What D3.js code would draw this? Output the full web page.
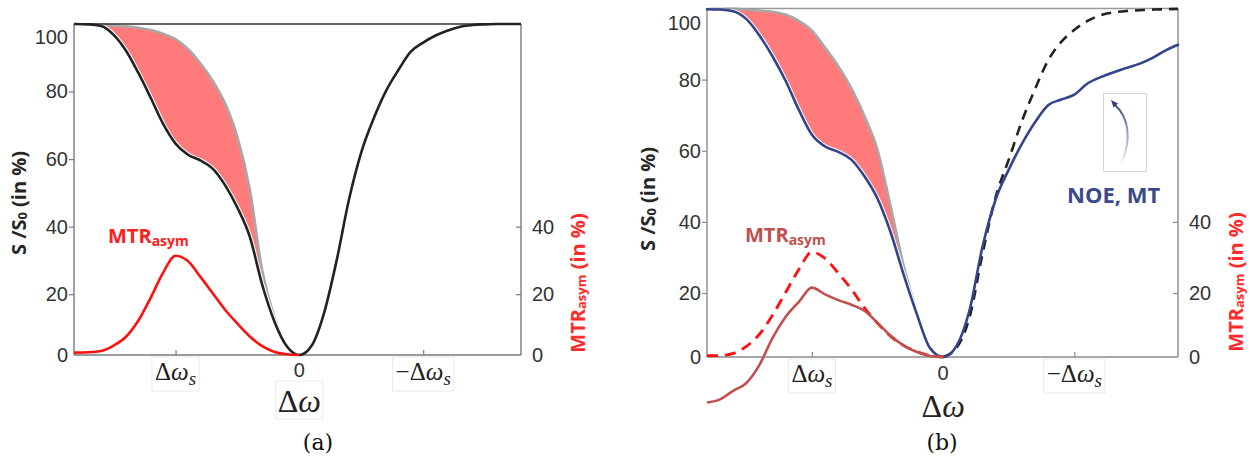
<!DOCTYPE html>
<html><head><meta charset="utf-8">
<script src="https://cdn.jsdelivr.net/npm/d3@7"></script>
<style>body{margin:0;background:#fff}svg{display:block}</style>
</head><body>
<script>
// ---------------- data ----------------
// x values are Δω in units of Δω_s (left = +Δω_s, right = −Δω_s)
const xTickValues = [1, 0, -1];
const yTickValues = [2, 20, 40, 60, 80, 96];
const yTickLabels = ["0", "20", "40", "60", "80", "100"];
const y2TickValues = [2, 20, 40];
const y2TickLabels = ["0", "20", "40"];

// panel (a)
const dwLeftA  = [1.82,1.7,1.6,1.5,1.4,1.3,1.2,1.1,1.0,0.9,0.8,0.7,0.6,0.5,0.4,0.3,0.2,0.1,0];
const zLeftA   = [100,99.9,99.4,96.8,92.1,85.5,78.1,70.4,64.6,61.3,59.6,57.2,52.3,45.6,37.0,22.8,11.8,4.5,2.0];
const refLeftA = [100,100,99.9,99.6,99.3,98.9,98.2,97.1,95.5,92.6,88.4,83.2,76.5,66.5,51.0,27.0,13.0,4.7,2.0];
const mtrA     = [2.7,2.8,3.2,4.8,7.4,12.2,19.0,26.4,31.4,29.8,25.2,20.3,15.4,11.3,7.5,4.6,2.9,2.2,2.0];
const dwRightA = [0,-0.1,-0.2,-0.3,-0.4,-0.5,-0.6,-0.7,-0.8,-0.9,-1.0,-1.1,-1.2,-1.3,-1.4,-1.5,-1.6,-1.79];
const zRightA  = [2.0,4.8,14.5,29.8,47.9,62.0,72.0,80.2,86.4,91.8,94.5,96.6,98.1,99.2,99.7,99.9,100,100];

// panel (b)
const dwLeftB   = [1.8,1.7,1.6,1.5,1.4,1.3,1.2,1.1,1.0,0.9,0.8,0.7,0.6,0.5,0.4,0.3,0.2,0.1,0];
const zLeftB    = [99.8,99.7,99.2,97.0,92.4,86.5,79.6,71.5,64.5,61.2,59.7,57.5,52.8,46.5,37.0,25.0,14.0,4.5,2.0];
const refLeftB  = [100,100,99.9,99.7,99.4,99.1,98.3,96.5,93.8,89.0,83.8,77.6,69.8,60.2,44.3,27.5,14.6,4.6,2.0];
const mtrSimB   = [2.4,2.4,3.0,5.0,8.4,13.8,20.2,26.6,31.5,29.7,25.6,21.1,15.8,11.5,7.8,5.2,3.5,2.4,2.0];
const mtrExpB   = [-10.8,-9.9,-7.5,-5.3,-0.2,7.4,13.3,17.5,21.5,19.6,18.0,16.7,15.0,11.6,8.0,5.2,3.4,2.3,2.0];
const dwRightB  = [0,-0.1,-0.2,-0.3,-0.4,-0.5,-0.6,-0.7,-0.8,-0.9,-1.0,-1.1,-1.2,-1.3,-1.4,-1.5,-1.6,-1.7,-1.79];
const zSimRightB = [2.0,4.5,13.0,31.0,47.0,57.5,68.3,77.3,85.4,90.6,94.0,96.5,98.1,98.9,99.3,99.5,99.7,99.8,99.9];
const zExpRightB = [2.0,5.0,15.0,33.0,46.3,54.7,61.9,68.0,72.8,74.4,75.8,78.9,80.7,82.1,83.3,84.5,86.2,88.3,89.8];

// ---------------- drawing ----------------
const W = 1250, H = 466;
const svg = d3.select("body").append("svg").attr("width", W).attr("height", H);
const SANS = "'Liberation Sans', Arial, sans-serif";
const BOLD = "'Open Sans', 'Liberation Sans', sans-serif";
const SERIF = "'Liberation Serif', 'DejaVu Serif', serif";

const zip = (xs, ...cols) => xs.map((v, i) => [v, ...cols.map(c => c[i])]);

function boxBehind(g, t, padX, padT, padB, stroke) {
  const b = t.node().getBBox();
  g.insert("rect", () => t.node()).attr("x", b.x - padX).attr("y", b.y - padT)
    .attr("width", b.width + 2 * padX).attr("height", b.height + padT + padB)
    .attr("fill", "#fff").attr("stroke", stroke).attr("stroke-width", 1);
}

function panel(p) {
  const g = svg.append("g");
  const x = d3.scaleLinear().domain(p.xDomain).range([p.left, p.right]);
  const y = d3.scaleLinear().domain([2, 100]).range([p.bottom, p.top]);
  const line = d3.line().x(d => x(d[0])).y(d => y(d[1])).curve(d3.curveMonotoneX);
  const area = d3.area().x(d => x(d[0])).y0(d => y(d[1])).y1(d => y(d[2])).curve(d3.curveMonotoneX);

  // red asymmetry area
  g.append("path").datum(zip(p.dwLeft, p.zLeft, p.refLeft))
    .attr("d", area).attr("fill", "#ff7b7b");
  // reference (mirrored) curve
  g.append("path").datum(zip(p.dwLeft, p.refLeft))
    .attr("d", line).attr("fill", "none").attr("stroke", "#a8a8a8").attr("stroke-width", 2.6);

  const zFull = zip(p.dwLeft, p.zLeft).concat(zip(p.dwRight, p.zRight).slice(1));
  // white halo under main curve
  g.append("path").datum(zFull).attr("d", line).attr("fill", "none")
    .attr("stroke", "#fff").attr("stroke-width", 4.6);

  // frame
  const f = g.append("g").attr("fill", "none").attr("stroke-width", 1.4);
  f.append("line").attr("x1", p.left).attr("x2", p.right).attr("y1", p.top).attr("y2", p.top).attr("stroke", p.topColor);
  f.append("line").attr("x1", p.left).attr("x2", p.left).attr("y1", p.top).attr("y2", p.bottom).attr("stroke", p.axisColor);
  f.append("line").attr("x1", p.right).attr("x2", p.right).attr("y1", p.top).attr("y2", p.bottom).attr("stroke", p.axisColor);
  f.append("line").attr("x1", p.left).attr("x2", p.right).attr("y1", p.bottom).attr("y2", p.bottom).attr("stroke", p.axisColor);

  // left axis
  const gl = g.append("g").attr("transform", `translate(${p.left},0)`)
    .call(d3.axisLeft(y).tickValues(yTickValues).tickSize(5).tickPadding(1)
      .tickFormat(d => yTickLabels[yTickValues.indexOf(d)]));
  gl.select(".domain").remove();
  gl.attr("font-family", SANS).attr("font-size", 20);
  gl.selectAll(".tick line").attr("stroke", p.axisColor).attr("stroke-width", 1.2)
    .attr("display", d => (d === 2 || d === 96) ? "none" : null);
  gl.selectAll(".tick text").attr("fill", "#333");

  // right axis
  const gr = g.append("g").attr("transform", `translate(${p.right},0)`)
    .call(d3.axisRight(y).tickValues(y2TickValues).tickSize(-5).tickPadding(11)
      .tickFormat(d => y2TickLabels[y2TickValues.indexOf(d)]));
  gr.select(".domain").remove();
  gr.attr("font-family", SANS).attr("font-size", 20);
  gr.selectAll(".tick line").attr("stroke", p.axisColor).attr("stroke-width", 1.2)
    .attr("display", d => d === 2 ? "none" : null);
  gr.selectAll(".tick text").attr("fill", "#333");

  // x axis ticks (inward)
  const gx = g.append("g").attr("transform", `translate(0,${p.bottom})`)
    .call(d3.axisBottom(x).tickValues(xTickValues.filter(v => v !== 0)).tickSize(-5).tickFormat(""));
  gx.select(".domain").remove();
  gx.selectAll(".tick line").attr("stroke", p.axisColor).attr("stroke-width", 1.2);

  // x tick labels
  xTickValues.forEach(v => {
    if (v === 0) {
      g.append("text").attr("x", x(v)).attr("y", p.bottom + p.zeroDy).attr("text-anchor", "middle")
        .attr("font-family", SANS).attr("font-size", 20).attr("fill", "#333").text("0");
    } else {
      const t = g.append("text").attr("x", x(v)).attr("y", p.bottom + 25).attr("text-anchor", "middle")
        .attr("font-family", SERIF).attr("font-size", 25).attr("fill", "#222");
      t.append("tspan").text((v < 0 ? "\u2212" : "") + "\u0394");
      t.append("tspan").attr("font-style", "italic").text("\u03c9");
      t.append("tspan").attr("font-style", "italic").attr("font-size", 19).attr("dy", 5).text("s");
      boxBehind(g, t, 3, 1, 2, "#e9e9e9");
    }
  });

  // x axis title
  const xt = g.append("text").attr("x", x(0)).attr("y", p.bottom + p.xTitleDy).attr("text-anchor", "middle")
    .attr("font-family", SERIF).attr("font-size", 32).attr("fill", "#222");
  xt.append("tspan").text("\u0394");
  xt.append("tspan").attr("font-style", "italic").text("\u03c9");
  if (p.xTitleBox) boxBehind(g, xt, 2, 2, 0, "#ebebeb");

  // panel caption
  g.append("text").attr("x", p.capX).attr("y", 450).attr("text-anchor", "middle")
    .attr("font-family", "'DejaVu Serif', serif").attr("font-size", 22).attr("fill", "#111").text(p.caption);

  // left y title
  const lt = g.append("text").attr("transform", `translate(${p.ltX},${p.ltY}) rotate(-90)`)
    .attr("text-anchor", "middle").attr("dominant-baseline", "central")
    .attr("font-family", BOLD).attr("font-weight", 700).attr("font-size", 20).attr("fill", "#262626");
  lt.append("tspan").text("S /S");
  lt.append("tspan").attr("font-size", 13).attr("dy", 4).text("0");
  lt.append("tspan").attr("dy", -4).text(" (in %)");

  // right y title
  const rt = g.append("text").attr("transform", `translate(${p.rtX},${p.rtY}) rotate(-90)`)
    .attr("text-anchor", "middle").attr("dominant-baseline", "central")
    .attr("font-family", BOLD).attr("font-weight", 700).attr("font-size", 20).attr("fill", "#ff2a2a");
  rt.append("tspan").text("MTR");
  rt.append("tspan").attr("font-size", 13).attr("dy", 4).text("asym");
  rt.append("tspan").attr("dy", -4).text(" (in %)");

  // MTR label
  const ml = g.append("text").attr("x", p.mtrLabelX).attr("y", p.mtrLabelY)
    .attr("font-family", BOLD).attr("font-weight", 700).attr("font-size", 20).attr("fill", p.mtrLabelColor);
  ml.append("tspan").text("MTR");
  ml.append("tspan").attr("font-size", 14).attr("dy", 3).text("asym");

  return { g, x, y, line, zFull };
}

// ---------- panel (a) ----------
const A = panel({
  left: 74, right: 521, top: 24, bottom: 355, xDomain: [1.82, -1.79],
  dwLeft: dwLeftA, zLeft: zLeftA, refLeft: refLeftA, dwRight: dwRightA, zRight: zRightA,
  axisColor: "#7a7a7a", topColor: "#333", zeroDy: 22, xTitleDy: 57, xTitleBox: true,
  capX: 318, caption: "(a)", ltX: 18, ltY: 203, rtX: 577, rtY: 283,
  mtrLabelX: 108, mtrLabelY: 243, mtrLabelColor: "#ff2020"
});
A.g.append("path").datum(A.zFull).attr("d", A.line).attr("fill", "none")
  .attr("stroke", "#222").attr("stroke-width", 2.6);
A.g.append("path").datum(zip(dwLeftA, mtrA)).attr("d", A.line).attr("fill", "none")
  .attr("stroke", "#ff1010").attr("stroke-width", 2.6);

// ---------- panel (b) ----------
const B = panel({
  left: 707, right: 1178, top: 8.5, bottom: 357, xDomain: [1.8, -1.79],
  dwLeft: dwLeftB, zLeft: zLeftB, refLeft: refLeftB, dwRight: dwRightB, zRight: zExpRightB,
  axisColor: "#8a8a8a", topColor: "#9a9a9a", zeroDy: 23, xTitleDy: 60, xTitleBox: false,
  capX: 942, caption: "(b)", ltX: 647, ltY: 199, rtX: 1235, rtY: 282,
  mtrLabelX: 745, mtrLabelY: 242, mtrLabelColor: "#c0504d"
});
B.g.append("path").datum(zip(dwRightB, zSimRightB)).attr("d", B.line).attr("fill", "none")
  .attr("stroke", "#222").attr("stroke-width", 2.6).attr("stroke-dasharray", "10,7");
B.g.append("path").datum(B.zFull).attr("d", B.line).attr("fill", "none")
  .attr("stroke", "#34438a").attr("stroke-width", 2.6).attr("stroke-linecap", "round");
B.g.append("path").datum(zip(dwLeftB, mtrSimB)).attr("d", B.line).attr("fill", "none")
  .attr("stroke", "#ff1010").attr("stroke-width", 2.8).attr("stroke-dasharray", "11,7");
B.g.append("path").datum(zip(dwLeftB, mtrExpB)).attr("d", B.line).attr("fill", "none")
  .attr("stroke", "#c0504d").attr("stroke-width", 2.6);

// NOE, MT annotation
B.g.append("text").attr("x", 1067).attr("y", 203)
  .attr("font-family", BOLD).attr("font-weight", 700).attr("font-size", 22).attr("fill", "#3a4a8c").text("NOE, MT");
// arrow icon
const defs = svg.append("defs");
const grad = defs.append("linearGradient").attr("id", "arrowGrad")
  .attr("gradientUnits", "userSpaceOnUse").attr("x1", 0).attr("y1", 100).attr("x2", 0).attr("y2", 163);
grad.append("stop").attr("offset", 0).attr("stop-color", "#2f3e85").attr("stop-opacity", 1);
grad.append("stop").attr("offset", 1).attr("stop-color", "#2f3e85").attr("stop-opacity", 0.05);
B.g.append("rect").attr("x", 1103.5).attr("y", 93.5).attr("width", 43).attr("height", 78)
  .attr("fill", "#fff").attr("stroke", "#d6d6d6").attr("stroke-width", 1);
B.g.append("path").attr("d", "M1122,162 C1131,140 1130,118 1114,104")
  .attr("fill", "none").attr("stroke", "url(#arrowGrad)").attr("stroke-width", 2);
B.g.append("path").attr("d", "M1111,100 L1118,103.5 L1113.5,107.5 Z").attr("fill", "#2f3e85");
</script>
</body></html>
